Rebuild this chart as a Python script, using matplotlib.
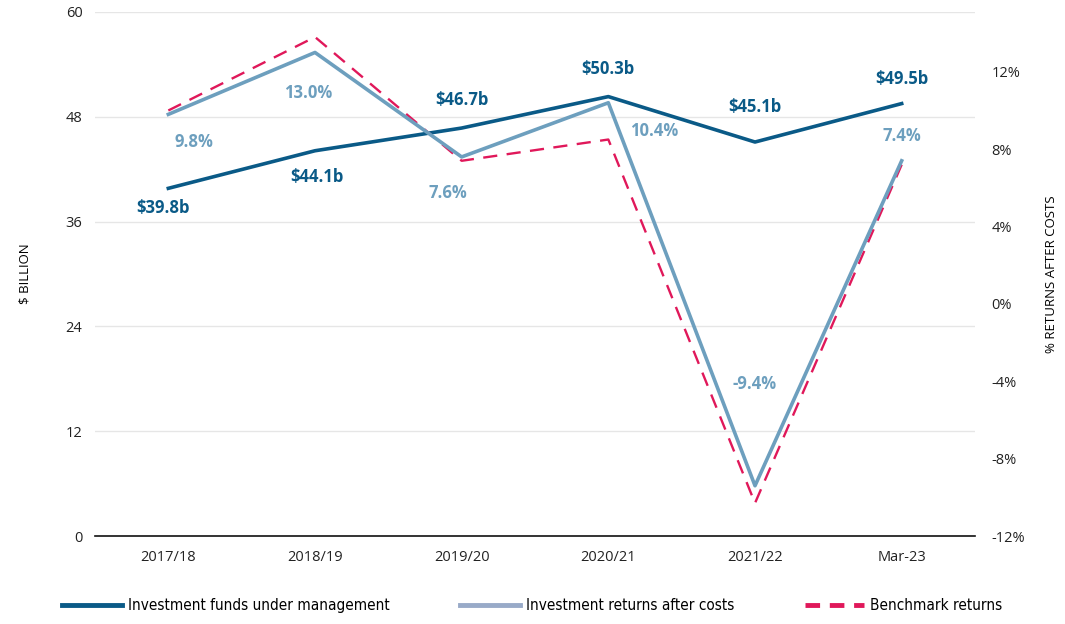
import matplotlib.pyplot as plt
from matplotlib.lines import Line2D

# data
years = ["2017/18", "2018/19", "2019/20", "2020/21", "2021/22", "Mar-23"]
funds = [39.8, 44.1, 46.7, 50.3, 45.1, 49.5]          # $ billion
returns = [9.8, 13.0, 7.6, 10.4, -9.4, 7.4]           # % after costs
benchmark = [10.0, 13.8, 7.4, 8.5, -10.3, 7.2]        # %

funds_labels = ["$39.8b", "$44.1b", "$46.7b", "$50.3b", "$45.1b", "$49.5b"]
returns_labels = ["9.8%", "13.0%", "7.6%", "10.4%", "-9.4%", "7.4%"]

c_funds = "#0a5a87"
c_ret = "#6d9fbe"
c_bench = "#e0185a"

plt.rcParams["font.family"] = ["Open Sans", "DejaVu Sans"]

fig = plt.figure(figsize=(10.65, 6.24), dpi=100)
ax = fig.add_axes([0.0892, 0.141, 0.8263, 0.840])
ax2 = ax.twinx()

x = list(range(len(years)))
ax.plot(x, funds, color=c_funds, lw=2.6, zorder=3)
ax2.plot(x, returns, color=c_ret, lw=2.6, zorder=3)
ax2.plot(x, benchmark, color=c_bench, lw=1.7, dashes=(6, 4), zorder=2)

ax.set_xlim(-0.5, 5.5)
ax.set_ylim(0, 60)
ax.set_yticks([0, 12, 24, 36, 48, 60])
ax2.set_ylim(-12, 15.1)
ax2.set_yticks([-12, -8, -4, 0, 4, 8, 12])
ax2.set_yticklabels(["-12%", "-8%", "-4%", "0%", "4%", "8%", "12%"])
ax.set_xticks(x)
ax.set_xticklabels(years)

ax.grid(axis="y", color="#e6e6e6", lw=1)
ax.set_axisbelow(True)
for a in (ax, ax2):
    for s in ("top", "right", "left", "bottom"):
        a.spines[s].set_visible(False)
    a.tick_params(length=0, labelsize=10.5, colors="#222222")
ax.spines["bottom"].set_visible(True)
ax.spines["bottom"].set_color("#111111")
ax.spines["bottom"].set_linewidth(1.2)
ax.tick_params(axis="y", pad=9)
ax.tick_params(axis="x", pad=10)
ax2.tick_params(axis="y", pad=12)

ax.set_ylabel("$ BILLION", fontsize=9.5, labelpad=25)
ax2.set_ylabel("% RETURNS AFTER COSTS", fontsize=9.5, labelpad=14)

# value labels (offsets in pixels)
funds_off = [(-5, -20), (2, -26), (0, 28), (0, 28), (0, 35), (0, 25)]
for xi, v, t, off in zip(x, funds, funds_labels, funds_off):
    ax.annotate(t, (xi, v), xytext=off, textcoords="offset pixels",
                ha="center", va="center", fontsize=12, fontweight="bold",
                color=c_funds)

ret_off = [(26, -28), (-7, -41), (-14, -36), (46, -28), (0, 102), (0, 25)]
for xi, v, t, off in zip(x, returns, returns_labels, ret_off):
    ax2.annotate(t, (xi, v), xytext=off, textcoords="offset pixels",
                 ha="center", va="center", fontsize=12, fontweight="bold",
                 color=c_ret)

handles = [
    Line2D([], [], color=c_funds, lw=3.5),
    Line2D([], [], color="#98aac8", lw=3.5),
    Line2D([], [], color=c_bench, lw=3.5, dashes=(3, 2)),
]
names = ["Investment funds under management", "Investment returns after costs",
         "Benchmark returns"]
fig.legend(handles, names, loc="lower center", bbox_to_anchor=(0.5, -0.005),
           ncol=3, frameon=False, handlelength=3.9, handletextpad=0.4,
           columnspacing=4.6,
           prop={"family": "DejaVu Sans", "stretch": "condensed", "size": 11})

fig.savefig("out.png", dpi=100)
